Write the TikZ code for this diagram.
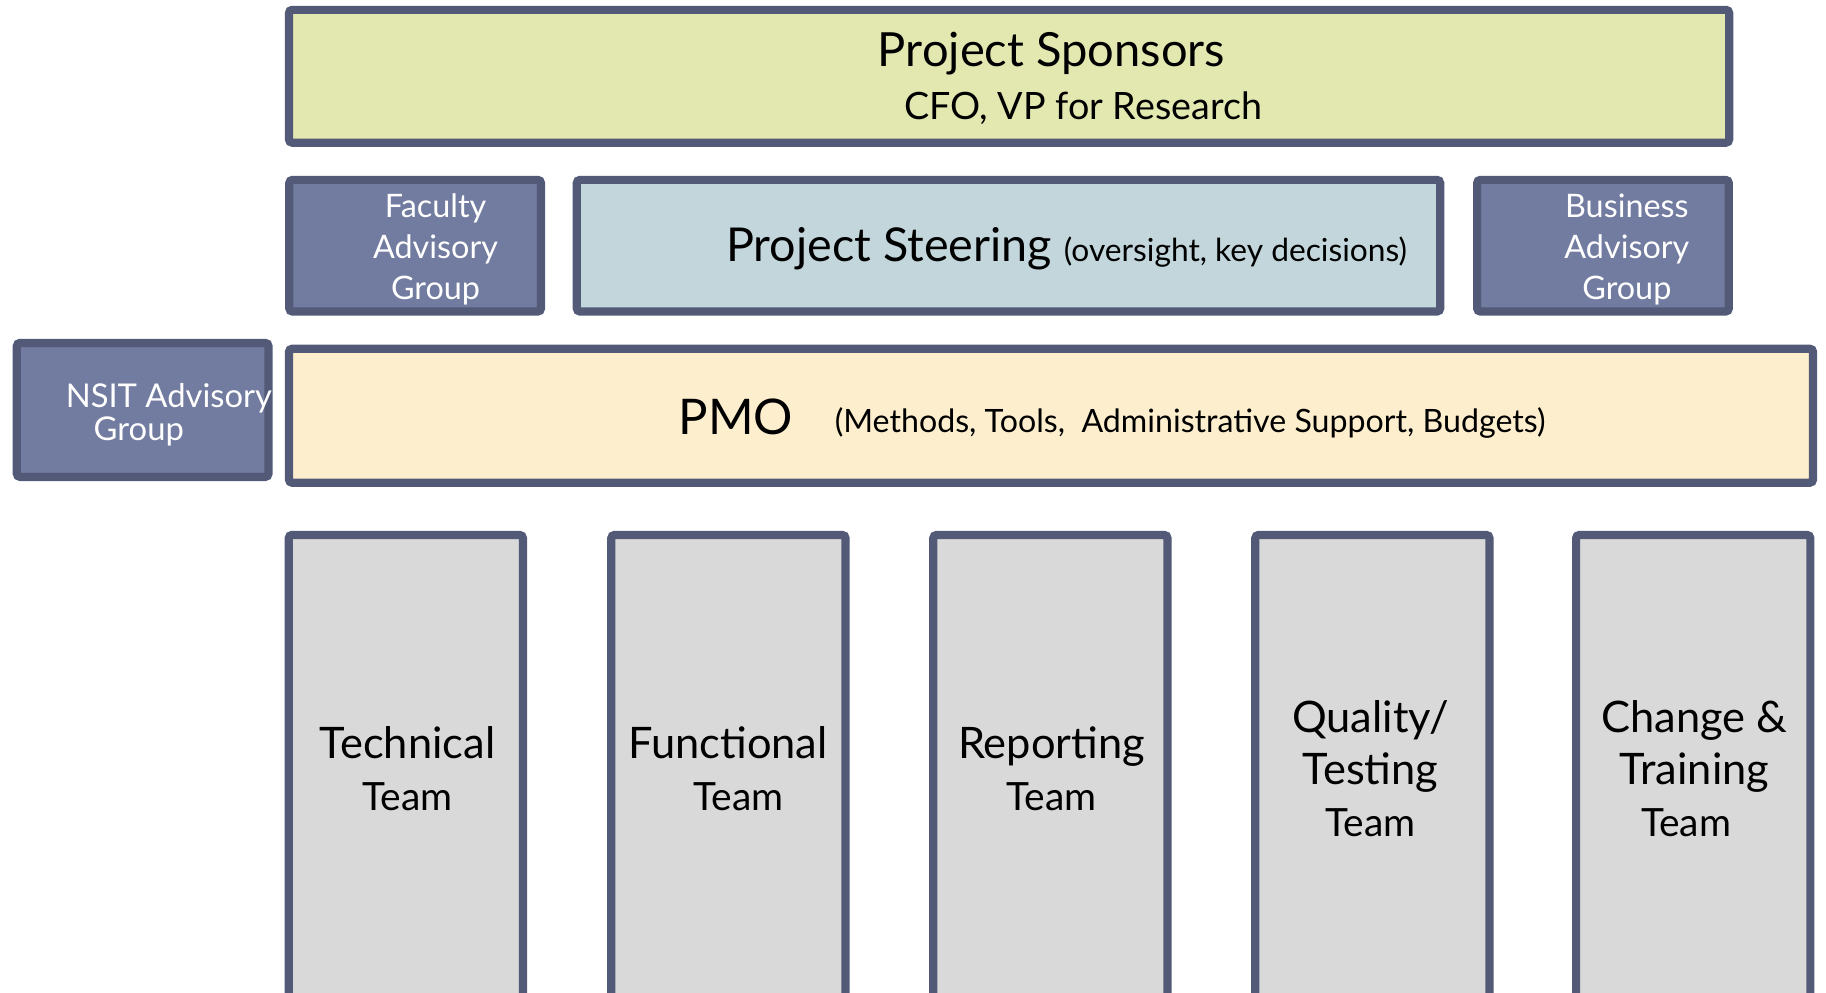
\documentclass[tikz,border=0pt]{standalone}
\usepackage{fontspec}
\setmainfont{Lato}
\usepackage{tikz}

\definecolor{borde}{HTML}{525A78}
\definecolor{patrocinio}{HTML}{E2E8B0}
\definecolor{direccion}{HTML}{C2D6DC}
\definecolor{asesor}{HTML}{727BA0}
\definecolor{oficina}{HTML}{FDEFCE}
\definecolor{equipo}{HTML}{D9D9D9}

\tikzstyle{caja}= [rectangle,draw=borde,line width=2pt,rounded corners=0.8pt,inner sep=0pt]
\tikzstyle{grupo}= [caja,fill=asesor,minimum width=2.16cm,minimum height=1.13cm]
\tikzstyle{equipobox}= [caja,fill=equipo,minimum width=2.01cm,minimum height=4.57cm]
\tikzstyle{texto}= [align=center,inner sep=0pt]
\tikzstyle{blanco}= [texto,white,font=\fontsize{7.9}{10}\selectfont]
\tikzstyle{nombre}= [texto,font=\fontsize{10.6}{12.8}\selectfont]
\newcommand{\tm}{\fontsize{9.5}{11}\selectfont}

\begin{document}
\begin{tikzpicture}[x=0.01cm,y=-0.01cm]
		\useasboundingbox (0,0) rectangle (1568,852);

		% primera fila
		\node (spons) at (866.5,65.5) [caja,fill=patrocinio,minimum width=12.36cm,minimum height=1.14cm] {};
		\node (sponsT) at (903,46) [texto,font=\fontsize{11.5}{12}\selectfont] {Project Sponsors};
		\node (sponsS) at (930,93) [texto,font=\fontsize{9.2}{10}\selectfont] {CFO, VP for Research};

		% segunda fila
		\node (fac) at (356.5,211) [grupo] {};
		\node (facT) at (374,214) [blanco] {Faculty\\Advisory\\Group};
		\node (steer) at (866,211) [caja,fill=direccion,minimum width=7.41cm,minimum height=1.13cm] {};
		\node (steerT) at (916,214) [texto] {\fontsize{11.4}{13}\selectfont Project Steering \fontsize{7.75}{9}\selectfont(oversight, key decisions)};
		\node (bus) at (1376.5,211) [grupo] {};
		\node (busT) at (1397,214) [blanco] {Business\\Advisory\\Group};

		% tercera fila
		\node (nsit) at (122.5,352) [grupo,minimum height=1.15cm] {};
		\node (nsitT) at (145,356) [blanco,align=left,font=\fontsize{8}{8}\selectfont] {NSIT Advisory\\\hspace*{0.24cm}Group};
		\node (pmo) at (902.5,357) [caja,fill=oficina,minimum width=13.08cm,minimum height=1.15cm] {};
		\node (pmoT) at (632,358) [texto,font=\fontsize{12}{13}\selectfont] {PMO};
		\node (pmoS) at (1022,363) [texto,font=\fontsize{7.85}{9}\selectfont] {(Methods, Tools,\ \ Administrative Support, Budgets)};

		% equipos
		\node (tec) at (348.5,688) [equipobox] {};
		\node (tecT) at (350,660) [nombre] {Technical\\\tm Team};
		\node (fun) at (625.5,688) [equipobox] {};
		\node (funT) at (625,660) [nombre] {Functional\\\tm\hspace*{0.18cm}Team};
		\node (rep) at (902,688) [equipobox] {};
		\node (repT) at (903,660) [nombre] {Reporting\\\tm Team};
		\node (qua) at (1178.5,688) [equipobox] {};
		\node (quaT) at (1177,660) [nombre] {Quality/\\Testing\\\tm Team};
		\node (cha) at (1454,688) [equipobox] {};
		\node (chaT) at (1455,660) [nombre] {Change \&\\Training\\\tm\hspace*{-0.14cm}Team};

\end{tikzpicture}
\end{document}
